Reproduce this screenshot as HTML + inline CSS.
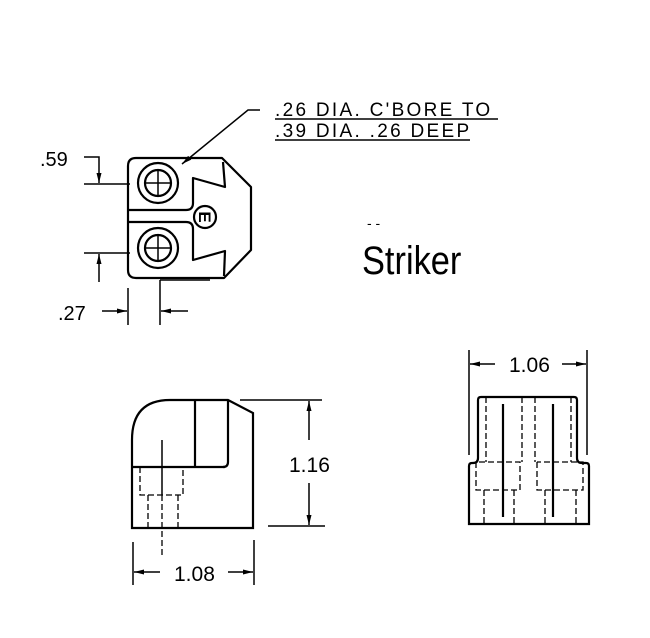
<!DOCTYPE html>
<html><head><style>
html,body{margin:0;padding:0;background:#fff;}
svg{display:block;}
text{font-family:"Liberation Sans",sans-serif;fill:#000;}
</style></head><body>
<svg width="650" height="638" viewBox="0 0 650 638" xmlns="http://www.w3.org/2000/svg">
<defs>
<marker id="a" viewBox="0 0 10 6" refX="10" refY="3" markerWidth="10" markerHeight="6" orient="auto" markerUnits="userSpaceOnUse"><path d="M0,0.5 L10,3 L0,5.5 Z" fill="#000"/></marker>
</defs>
<g fill="none" stroke="#000" stroke-width="2.2" stroke-linejoin="round">
<path d="M136,158 L222,158 L251,187 L251,250 L224,278 L136,278 Q128,278 128,270 L128,166 Q128,158 136,158 Z"/>
<path d="M128,210 L186,210 Q193,210 193,203 L193,178 L225,187 L223,162"/>
<path d="M128,222 L186,222 Q193,222 193,229 L193,260 L225,251 L224,276"/>
<circle cx="158" cy="183" r="20"/>
<circle cx="158" cy="183" r="13"/>
<circle cx="158" cy="248" r="20"/>
<circle cx="158" cy="248" r="13"/>
<circle cx="205" cy="217" r="11"/>
</g>
<g stroke="#000" stroke-width="1.5">
<line x1="158" y1="170" x2="158" y2="196"/><line x1="145" y1="183" x2="171" y2="183"/>
<line x1="158" y1="235" x2="158" y2="261"/><line x1="145" y1="248" x2="171" y2="248"/>
</g>
<text x="205" y="223" font-size="17" text-anchor="middle" transform="rotate(90 205 217)" font-weight="bold">E</text>
<g fill="none" stroke="#000" stroke-width="1.5">
<polyline points="260,110 248,110 182,164" marker-end="url(#a)"/>
<polyline points="84,157 99,157 99,183" marker-end="url(#a)"/>
<line x1="84" y1="184" x2="130" y2="184"/>
<line x1="84" y1="253" x2="130" y2="253"/>
<line x1="99" y1="282" x2="99" y2="254" marker-end="url(#a)"/>
<line x1="128" y1="288" x2="128" y2="325"/>
<line x1="160" y1="280" x2="160" y2="325"/>
<line x1="160" y1="280" x2="210" y2="280"/>
<line x1="102" y1="311" x2="127" y2="311" marker-end="url(#a)"/>
<line x1="188" y1="311" x2="161" y2="311" marker-end="url(#a)"/>
</g>
<text x="40" y="166" font-size="20">.59</text>
<text x="58" y="320" font-size="20">.27</text>
<text x="275" y="116" font-size="19" letter-spacing="2.3">.26 DIA. C'BORE TO</text>
<text x="275" y="137" font-size="19" letter-spacing="2.3">.39 DIA. .26 DEEP</text>
<line x1="275" y1="119" x2="498" y2="119" stroke="#000" stroke-width="1.5"/>
<line x1="275" y1="140" x2="470" y2="140" stroke="#000" stroke-width="1.5"/>
<text x="367" y="228" font-size="14">- -</text>
<text x="362" y="274" font-size="40" transform="translate(362 0) scale(0.86 1) translate(-362 0)">Striker</text>

<g fill="none" stroke="#000" stroke-width="2.2">
<path d="M132,528 L132,440 Q132,400 170,400 L228,400 L253,413 L253,528 Z"/>
<line x1="132" y1="467" x2="225" y2="467"/>
<line x1="195" y1="400" x2="195" y2="466"/>
<path d="M228,400 L228,462 Q228,467 223,467"/>
</g>
<g fill="none" stroke="#000" stroke-width="1.3" stroke-dasharray="6,3">
<polyline points="140,467 140,495 183,495 183,467"/>
<line x1="148" y1="495" x2="148" y2="528"/>
<line x1="178" y1="495" x2="178" y2="528"/>
<line x1="162" y1="495" x2="162" y2="556"/>
</g>
<line x1="162" y1="440" x2="162" y2="495" stroke="#000" stroke-width="1.5"/>
<g fill="none" stroke="#000" stroke-width="1.5">
<line x1="240" y1="400" x2="322" y2="400"/>
<line x1="268" y1="526" x2="325" y2="526"/>
<line x1="309" y1="440" x2="309" y2="401" marker-end="url(#a)"/>
<line x1="309" y1="483" x2="309" y2="525" marker-end="url(#a)"/>
<line x1="133" y1="542" x2="133" y2="585"/>
<line x1="254" y1="540" x2="254" y2="585"/>
<line x1="160" y1="572" x2="134" y2="572" marker-end="url(#a)"/>
<line x1="228" y1="572" x2="253" y2="572" marker-end="url(#a)"/>
</g>
<text x="289" y="472" font-size="21">1.16</text>
<text x="174" y="581" font-size="21">1.08</text>

<g fill="none" stroke="#000" stroke-width="2.2">
<path d="M478,458 L478,400 Q478,397 481,397 L574,397 Q577,397 577,400 L577,458 Q577,463 582,463 L586,463 Q589,463 589,466 L589,524 L469,524 L469,466 Q469,463 472,463 L473,463 Q478,463 478,458 Z"/>
<line x1="503" y1="404" x2="503" y2="517"/>
<line x1="553" y1="404" x2="553" y2="517"/>
</g>
<g fill="none" stroke="#000" stroke-width="1.3" stroke-dasharray="6,3">
<line x1="486" y1="397" x2="486" y2="462"/>
<line x1="522" y1="397" x2="522" y2="462"/>
<line x1="535" y1="397" x2="535" y2="462"/>
<line x1="571" y1="397" x2="571" y2="462"/>
<polyline points="476,462 476,490 520,490 520,462 476,462"/>
<polyline points="537,462 537,490 583,490 583,462 537,462"/>
<line x1="484" y1="490" x2="484" y2="524"/>
<line x1="514" y1="490" x2="514" y2="524"/>
<line x1="545" y1="490" x2="545" y2="524"/>
<line x1="576" y1="490" x2="576" y2="524"/>
</g>
<g fill="none" stroke="#000" stroke-width="1.5">
<line x1="469" y1="350" x2="469" y2="455"/>
<line x1="587" y1="350" x2="587" y2="455"/>
<line x1="495" y1="364" x2="470" y2="364" marker-end="url(#a)"/>
<line x1="562" y1="364" x2="586" y2="364" marker-end="url(#a)"/>
</g>
<text x="509" y="372" font-size="21">1.06</text>
</svg>
</body></html>
